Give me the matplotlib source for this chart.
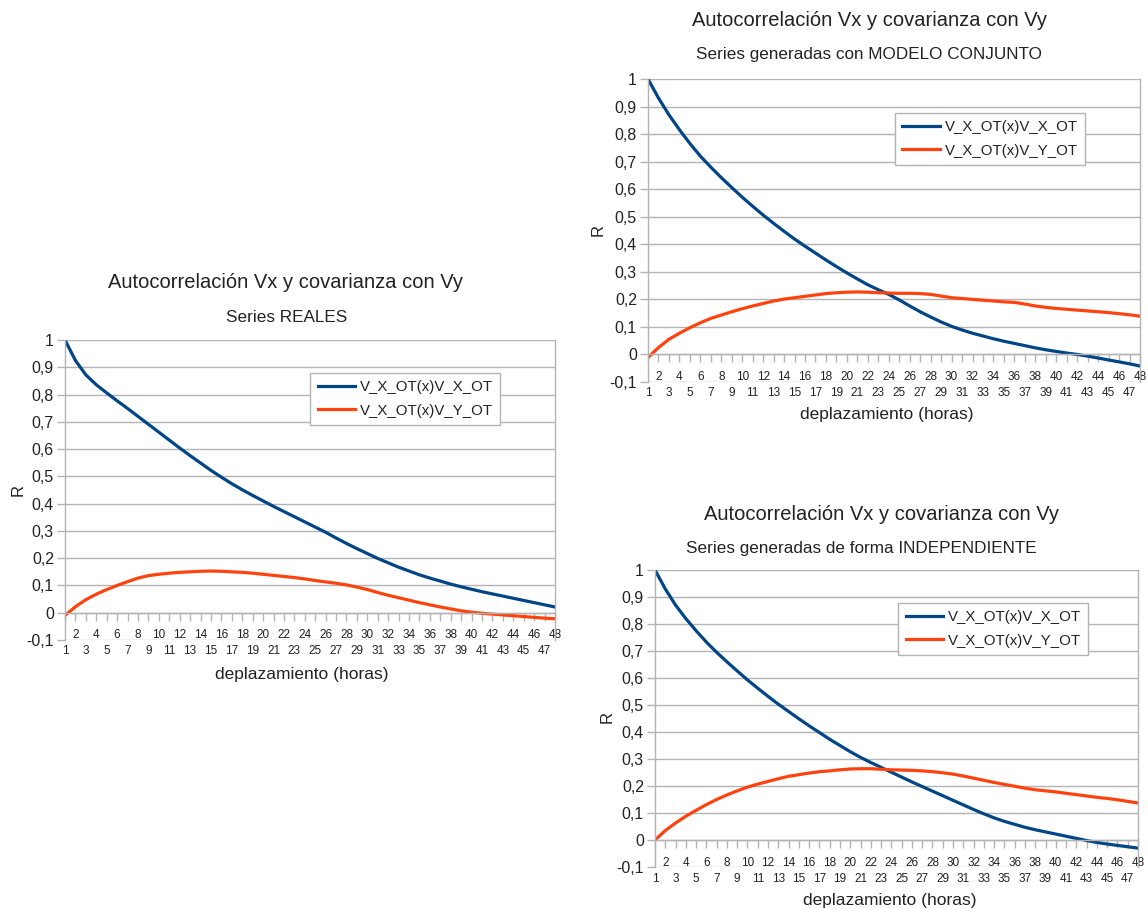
import matplotlib
matplotlib.use('Agg')
import matplotlib.pyplot as plt
from matplotlib.ticker import FixedLocator, FuncFormatter

plt.rcParams['font.family'] = ['Liberation Sans', 'DejaVu Sans']

lags = list(range(1, 49))
y_ticks = [-0.1, 0, 0.1, 0.2, 0.3, 0.4, 0.5, 0.6, 0.7, 0.8, 0.9, 1]
series_names = ['V_X_OT(x)V_X_OT', 'V_X_OT(x)V_Y_OT']

main_title = 'Autocorrelación Vx y covarianza con Vy'
x_title = 'deplazamiento (horas)'
y_title = 'R'

# Series REALES
reales_xx = [1.000, 0.925, 0.872, 0.836, 0.806, 0.777, 0.749, 0.720, 0.691, 0.662,
             0.633, 0.604, 0.576, 0.549, 0.522, 0.497, 0.473, 0.451, 0.430, 0.410,
             0.390, 0.371, 0.352, 0.333, 0.314, 0.295, 0.274, 0.254, 0.235, 0.217,
             0.199, 0.183, 0.167, 0.153, 0.139, 0.127, 0.116, 0.105, 0.095, 0.086,
             0.077, 0.069, 0.061, 0.053, 0.045, 0.037, 0.029, 0.021]
reales_xy = [-0.010, 0.022, 0.048, 0.068, 0.085, 0.100, 0.114, 0.127, 0.136, 0.141,
             0.145, 0.148, 0.150, 0.152, 0.153, 0.152, 0.150, 0.148, 0.145, 0.141,
             0.137, 0.133, 0.129, 0.124, 0.118, 0.113, 0.108, 0.102, 0.094, 0.085,
             0.074, 0.064, 0.055, 0.046, 0.037, 0.029, 0.021, 0.014, 0.007, 0.002,
             -0.002, -0.005, -0.008, -0.011, -0.014, -0.017, -0.020, -0.022]

# Series generadas con MODELO CONJUNTO
conjunto_xx = [1.000, 0.931, 0.870, 0.816, 0.766, 0.720, 0.680, 0.642, 0.606, 0.571,
               0.538, 0.506, 0.476, 0.447, 0.419, 0.393, 0.368, 0.343, 0.319, 0.296,
               0.274, 0.253, 0.235, 0.218, 0.198, 0.176, 0.155, 0.136, 0.118, 0.102,
               0.089, 0.077, 0.067, 0.057, 0.048, 0.040, 0.032, 0.024, 0.017, 0.011,
               0.005, 0.000, -0.006, -0.013, -0.020, -0.027, -0.034, -0.042]
conjunto_xy = [-0.011, 0.025, 0.055, 0.077, 0.097, 0.115, 0.131, 0.143, 0.155, 0.166,
               0.176, 0.185, 0.194, 0.201, 0.206, 0.211, 0.216, 0.221, 0.224, 0.226,
               0.227, 0.226, 0.224, 0.223, 0.222, 0.222, 0.221, 0.218, 0.212, 0.206,
               0.203, 0.200, 0.197, 0.194, 0.191, 0.189, 0.183, 0.176, 0.171, 0.167,
               0.164, 0.161, 0.158, 0.155, 0.152, 0.148, 0.144, 0.139]

# Series generadas de forma INDEPENDIENTE
indep_xx = [1.000, 0.930, 0.870, 0.820, 0.775, 0.733, 0.695, 0.660, 0.626, 0.593,
            0.562, 0.532, 0.503, 0.476, 0.449, 0.423, 0.398, 0.373, 0.350, 0.327,
            0.306, 0.287, 0.269, 0.251, 0.233, 0.215, 0.198, 0.181, 0.164, 0.147,
            0.130, 0.113, 0.097, 0.082, 0.069, 0.058, 0.047, 0.038, 0.030, 0.022,
            0.014, 0.006, -0.002, -0.009, -0.015, -0.020, -0.025, -0.030]
indep_xy = [0.000, 0.035, 0.063, 0.088, 0.110, 0.131, 0.150, 0.167, 0.182, 0.196,
            0.207, 0.217, 0.227, 0.236, 0.242, 0.248, 0.253, 0.256, 0.260, 0.263,
            0.264, 0.264, 0.262, 0.260, 0.259, 0.258, 0.256, 0.253, 0.249, 0.244,
            0.237, 0.229, 0.221, 0.213, 0.206, 0.199, 0.192, 0.186, 0.182, 0.178,
            0.173, 0.168, 0.163, 0.158, 0.154, 0.149, 0.143, 0.137]

BLUE = '#004586'
ORANGE = '#ff420e'
GRID = '#b3b3b3'
TXT = '#222222'

W, H = 1148, 909
fig = plt.figure(figsize=(W / 100, H / 100), dpi=100)


def px_axes(left, top, right, bottom):
    return fig.add_axes([left / W, 1 - bottom / H, (right - left) / W, (bottom - top) / H])


def comma(v, pos):
    if abs(v) < 1e-9:
        return '0'
    if abs(v - 1) < 1e-9:
        return '1'
    return f'{v:.1f}'.replace('.', ',')


def draw_panel(ax, xx, xy, subtitle, title_xy, sub_xy, xlab_xy, r_xy, legend_box):
    ax.plot(lags, xx, color=BLUE, lw=2.3, label=series_names[0])
    ax.plot(lags, xy, color=ORANGE, lw=2.3, label=series_names[1])
    ax.set_xlim(1, 48)
    ax.set_ylim(-0.1, 1)

    ax.yaxis.set_major_locator(FixedLocator(y_ticks))
    ax.yaxis.set_major_formatter(FuncFormatter(comma))
    ax.grid(axis='y', color=GRID, lw=1)
    ax.set_axisbelow(True)
    ax.tick_params(axis='y', length=6, width=1, color=GRID, labelsize=11.5, labelcolor=TXT, pad=2)

    # category axis crosses at 0, labels staggered on two rows
    ax.spines['bottom'].set_position(('data', 0))
    ax.xaxis.set_major_locator(FixedLocator(lags[1::2]))
    ax.xaxis.set_minor_locator(FixedLocator(lags[0::2]))
    ax.xaxis.set_major_formatter(FuncFormatter(lambda v, p: str(int(v))))
    ax.xaxis.set_minor_formatter(FuncFormatter(lambda v, p: str(int(v))))
    ax.tick_params(axis='x', which='major', length=6, width=1, color=GRID,
                   labelsize=8.5, labelcolor=TXT, pad=6)
    ax.tick_params(axis='x', which='minor', length=6, width=1, color=GRID,
                   labelsize=8.5, labelcolor=TXT, pad=17.5)

    for side in ['left', 'right', 'bottom']:
        ax.spines[side].set_color(GRID)
        ax.spines[side].set_linewidth(1)
    ax.spines['top'].set_visible(False)

    fig.text(title_xy[0] / W, 1 - title_xy[1] / H, main_title, ha='center', va='center',
             fontsize=14.5, color=TXT)
    fig.text(sub_xy[0] / W, 1 - sub_xy[1] / H, subtitle, ha='center', va='center',
             fontsize=12.3, color=TXT)
    fig.text(xlab_xy[0] / W, 1 - xlab_xy[1] / H, x_title, ha='center', va='center',
             fontsize=12.5, color=TXT)
    fig.text(r_xy[0] / W, 1 - r_xy[1] / H, y_title, ha='center', va='center',
             fontsize=12, color=TXT, rotation=90)

    l, t = legend_box
    box = ax.get_position()
    anchor = ((l / W - box.x0) / box.width, (1 - t / H - box.y0) / box.height)
    leg = ax.legend(loc='upper left', bbox_to_anchor=anchor,
                    fontsize=10.8, frameon=True, fancybox=False, framealpha=1,
                    edgecolor=GRID, borderpad=0.5, handlelength=2.5,
                    handletextpad=0.3, labelspacing=0.6, borderaxespad=0)
    leg.get_frame().set_linewidth(1)
    for txt in leg.get_texts():
        txt.set_color(TXT)


ax1 = px_axes(65, 340, 555, 640)
draw_panel(ax1, reales_xx, reales_xy, 'Series REALES',
           (285, 283), (287, 318), (302, 674), (18, 490), (310, 373))

ax2 = px_axes(648, 79, 1140, 382)
draw_panel(ax2, conjunto_xx, conjunto_xy, 'Series generadas con MODELO CONJUNTO',
           (870, 21), (869, 55), (887, 415), (598, 230), (895, 113))

ax3 = px_axes(655, 570, 1138, 867)
draw_panel(ax3, indep_xx, indep_xy, 'Series generadas de forma INDEPENDIENTE',
           (881, 514), (861, 548), (890, 900), (607, 717), (898, 603))

fig.savefig('out.png', dpi=100, facecolor='white')
